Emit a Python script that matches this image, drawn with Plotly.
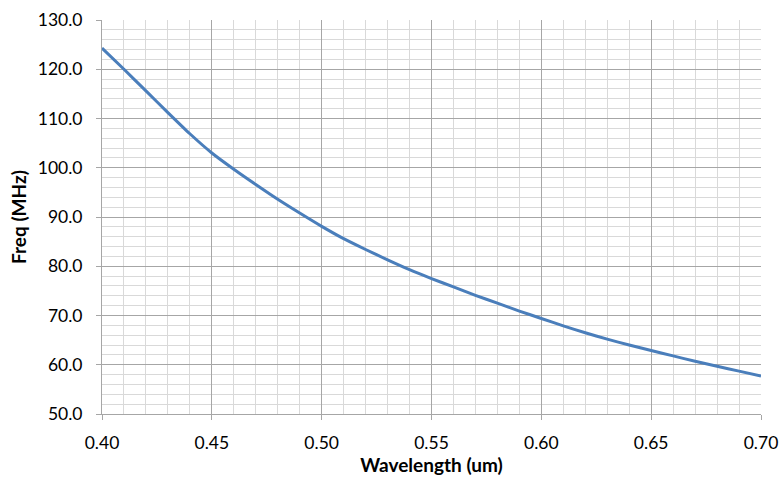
import plotly.graph_objects as go

wavelength_um = [0.40, 0.41, 0.42, 0.43, 0.44, 0.45, 0.46, 0.47, 0.48, 0.49,
                 0.50, 0.51, 0.52, 0.53, 0.54, 0.55, 0.56, 0.57, 0.58, 0.59,
                 0.60, 0.61, 0.62, 0.63, 0.64, 0.65, 0.66, 0.67, 0.68, 0.69, 0.70]
freq_mhz = [124.3, 120.0, 115.6, 111.2, 106.9, 103.0, 99.7, 96.6, 93.6, 90.8,
            88.1, 85.6, 83.4, 81.3, 79.3, 77.5, 75.8, 74.1, 72.5, 70.9,
            69.4, 67.9, 66.5, 65.2, 64.0, 62.9, 61.8, 60.7, 59.7, 58.7, 57.7]

FONT = "Lato, 'Open Sans', sans-serif"
MAJOR = "#a6a6a6"
MINOR = "#d9d9d9"

fig = go.Figure()
fig.add_trace(go.Scatter(
    x=wavelength_um, y=freq_mhz, mode="lines",
    line=dict(color="#4A7EBB", width=3, shape="spline", smoothing=0.6),
    showlegend=False,
))

fig.update_layout(
    width=780, height=478,
    margin=dict(l=102, r=19, t=20, b=64),
    paper_bgcolor="white", plot_bgcolor="white",
    font=dict(family=FONT, size=17.5, color="#000000"),
)
fig.update_xaxes(
    range=[0.40, 0.70], dtick=0.05, tick0=0.40, tickformat=".2f",
    showgrid=True, gridcolor=MAJOR, gridwidth=1,
    minor=dict(dtick=0.01, tick0=0.40, showgrid=True, gridcolor=MINOR, gridwidth=1),
    ticks="outside", ticklen=5, tickcolor=MAJOR,
    showline=True, linecolor=MAJOR, linewidth=1,
    zeroline=False, automargin=False,
    ticklabelstandoff=8,
    title=dict(text="<b>Wavelength (um)</b>", font=dict(family=FONT, size=19), standoff=4),
)
fig.update_yaxes(
    range=[50, 130], dtick=10, tick0=50, tickformat=".1f",
    showgrid=True, gridcolor=MAJOR, gridwidth=1,
    minor=dict(dtick=2, tick0=50, showgrid=True, gridcolor=MINOR, gridwidth=1),
    ticks="outside", ticklen=5, tickcolor=MAJOR,
    showline=True, linecolor=MAJOR, linewidth=1,
    zeroline=False, automargin=False,
    ticklabelstandoff=10,
    title=dict(text="<b>Freq (MHz)</b>", font=dict(family=FONT, size=19), standoff=6),
)

fig.write_html("out.html", config={"displayModeBar": False},
               post_script="document.body.style.margin='0px';")
